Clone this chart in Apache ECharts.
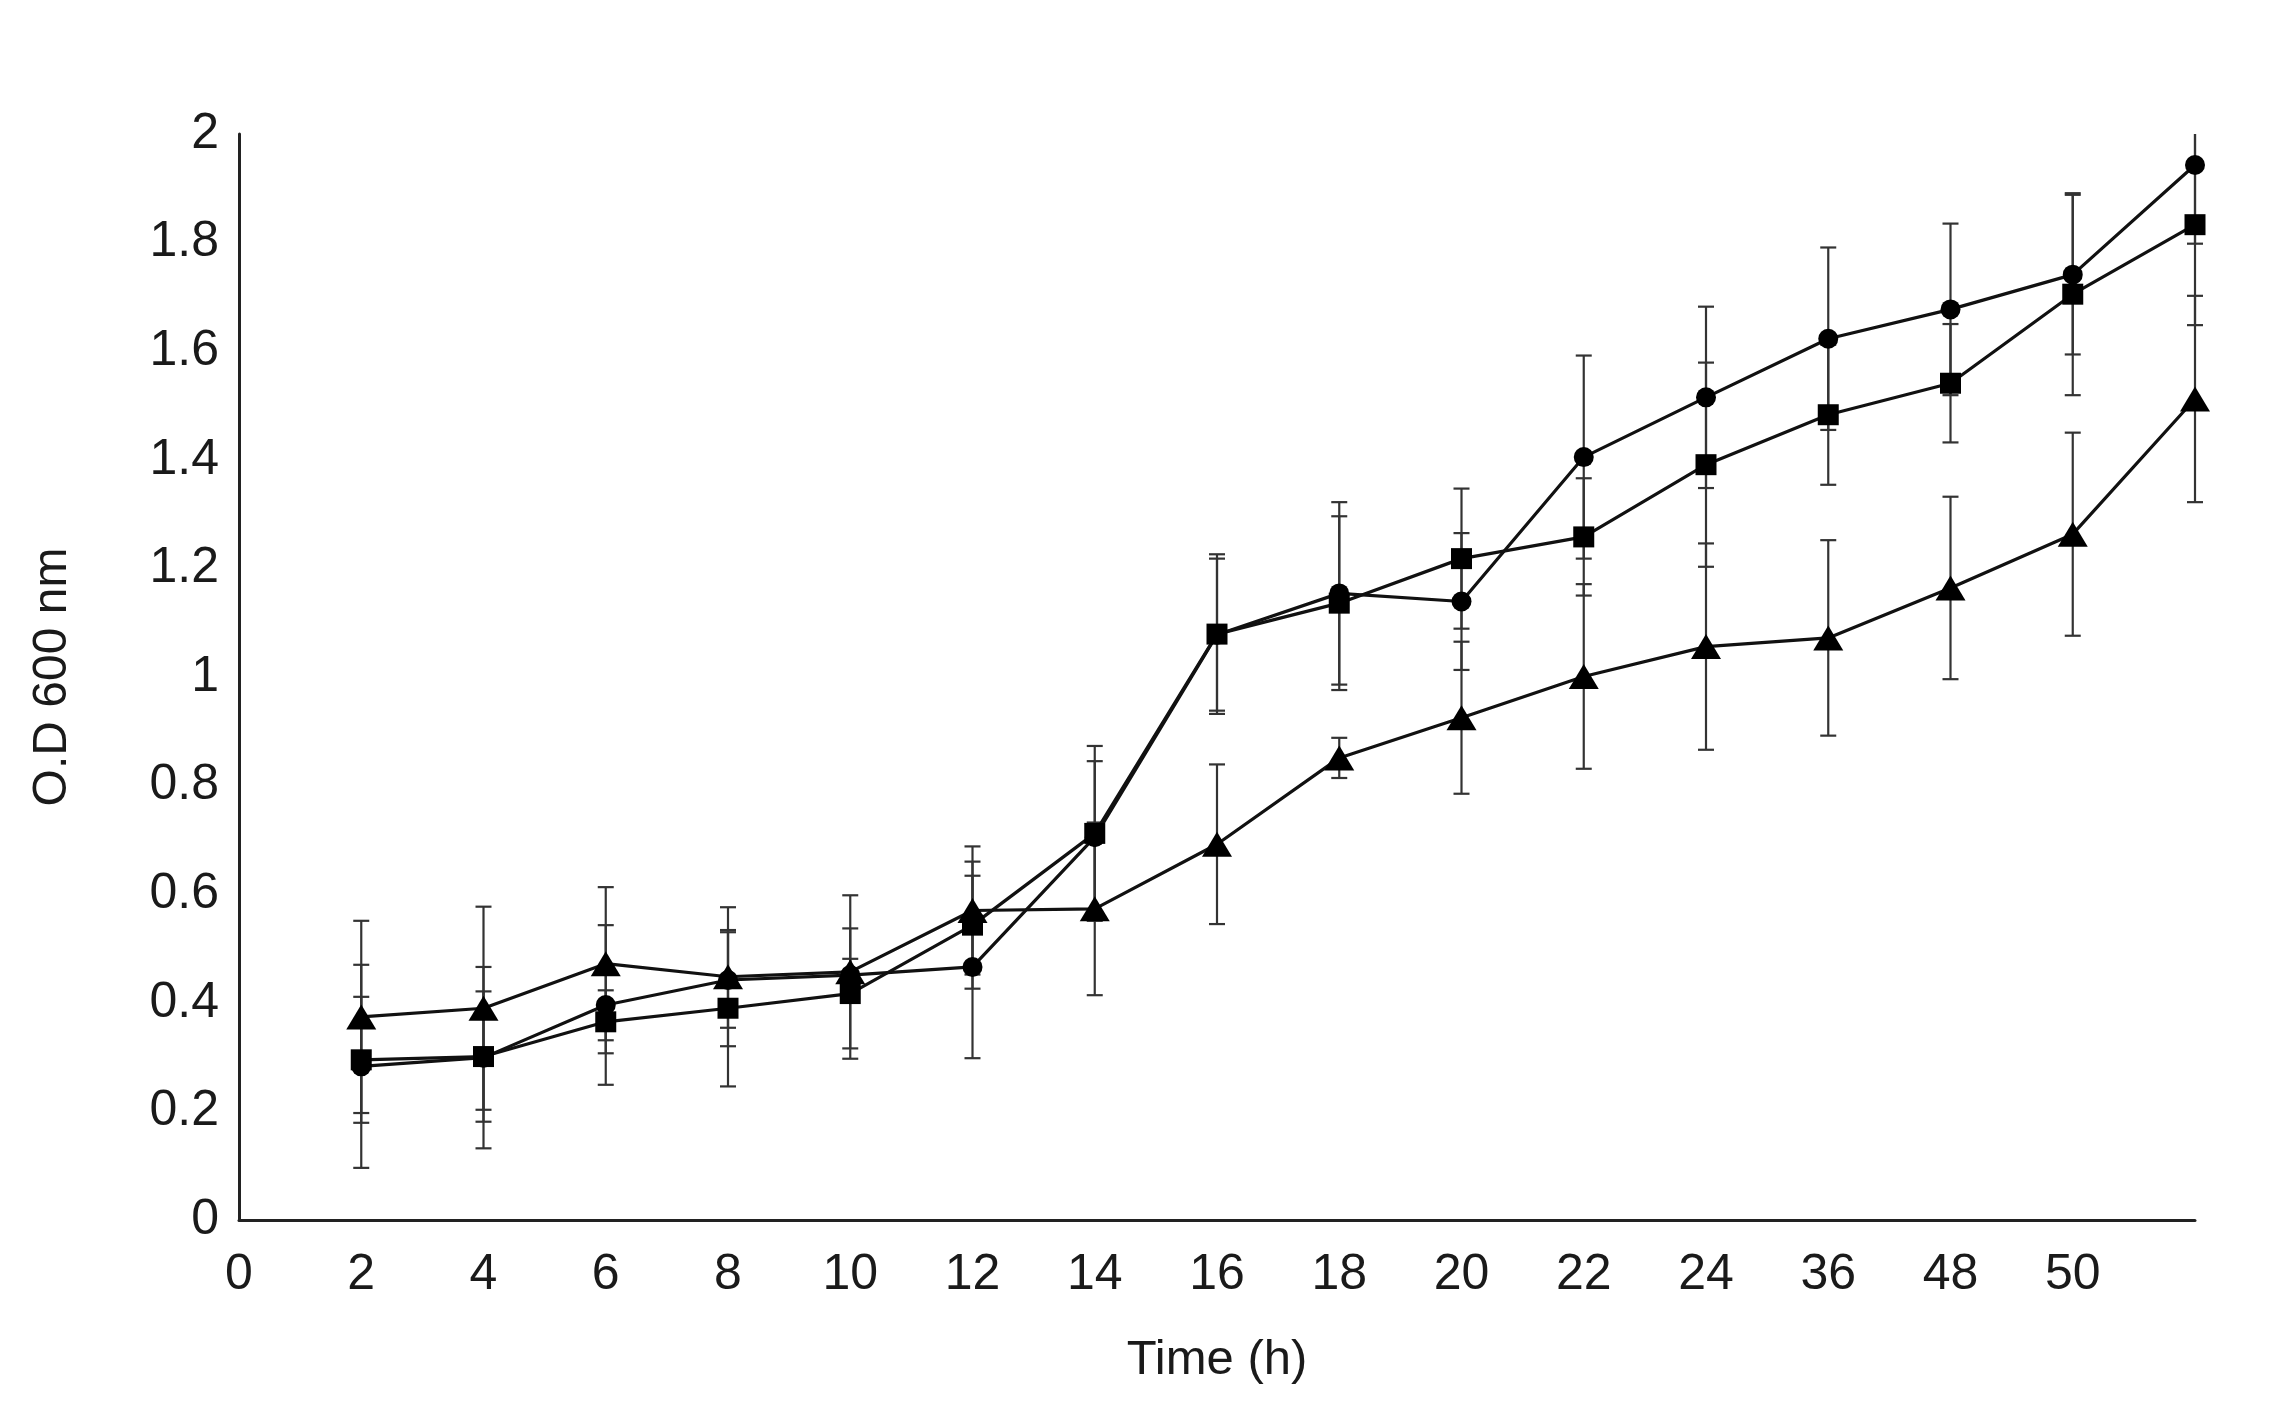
<!DOCTYPE html>
<html>
<head>
<meta charset="utf-8">
<script src="https://cdn.jsdelivr.net/npm/echarts@6/dist/echarts.min.js"></script>
<style>
html,body{margin:0;padding:0;background:#fff;}
#chart{width:2278px;height:1424px;}
</style>
</head>
<body>
<div id="chart"></div>
<script>
// Time categories (last position is unlabeled in the original)
const categories = ['0','2','4','6','8','10','12','14','16','18','20','22','24','36','48','50',''];

// Series means (O.D 600 nm)
const circleValues   = [null, 0.283, 0.299, 0.396, 0.442, 0.451, 0.466, 0.705, 1.078, 1.154, 1.139, 1.405, 1.515, 1.623, 1.677, 1.741, 1.943];
const squareValues   = [null, 0.295, 0.301, 0.365, 0.390, 0.417, 0.543, 0.712, 1.079, 1.136, 1.218, 1.258, 1.391, 1.483, 1.541, 1.705, 1.833];
const triangleValues = [null, 0.374, 0.390, 0.472, 0.448, 0.457, 0.570, 0.573, 0.692, 0.851, 0.925, 1.001, 1.056, 1.072, 1.164, 1.263, 1.512];

// Symmetric error bar half-lengths
const circleErr   = [null, 0.187, 0.167, 0.147, 0.088, 0.030, 0.168, 0.140, 0.140, 0.168, 0.126, 0.187, 0.167, 0.168, 0.158, 0.147, 0.145];
const squareErr   = [null, 0.116, 0.120, 0.058, 0.144, 0.120, 0.117, 0.161, 0.147, 0.160, 0.129, 0.108, 0.188, 0.129, 0.109, 0.186, 0.185];
const triangleErr = [null, 0.177, 0.187, 0.141, 0.128, 0.141, 0.118, 0.159, 0.147, 0.037, 0.140, 0.170, 0.190, 0.180, 0.168, 0.187, 0.190];

// Y axis ticks
const yMin = 0, yMax = 2, yInterval = 0.2;

const FONT = 'Liberation Sans, Arial, Helvetica, sans-serif';
const chart = echarts.init(document.getElementById('chart'));

function errData(vals, errs) {
  const out = [];
  vals.forEach((v, i) => { if (v != null) out.push([i, v, errs[i]]); });
  return out;
}

function renderErr(params, api) {
  const i = api.value(0), v = api.value(1), e = api.value(2);
  let hi = v + e, lo = v - e;
  const hiClip = hi > yMax; if (hiClip) hi = yMax;
  const loClip = lo < yMin; if (loClip) lo = yMin;
  const pHi = api.coord([i, hi]);
  const pLo = api.coord([i, lo]);
  const cw = 8;
  const style = { stroke: '#333', lineWidth: 2.2 };
  const children = [
    { type: 'line', shape: { x1: pHi[0], y1: pHi[1], x2: pLo[0], y2: pLo[1] }, style: style }
  ];
  if (!hiClip) children.push({ type: 'line', shape: { x1: pHi[0]-cw, y1: pHi[1], x2: pHi[0]+cw, y2: pHi[1] }, style: style });
  if (!loClip) children.push({ type: 'line', shape: { x1: pLo[0]-cw, y1: pLo[1], x2: pLo[0]+cw, y2: pLo[1] }, style: style });
  return { type: 'group', children: children };
}

function lineSeries(name, data, symbol, size) {
  return {
    name: name, type: 'line', data: data, symbol: symbol, symbolSize: size,
    showAllSymbol: true, connectNulls: false, z: 5,
    lineStyle: { color: '#111', width: 3.2 },
    itemStyle: { color: '#000', borderWidth: 0 },
    emphasis: { disabled: true }, animation: false
  };
}

function errSeries(name, vals, errs) {
  return {
    name: name + ' err', type: 'custom', renderItem: renderErr,
    data: errData(vals, errs), z: 2, animation: false, silent: true,
    encode: { x: 0, y: 1 }
  };
}

chart.setOption({
  backgroundColor: '#fff',
  animation: false,
  grid: { left: 239, right: 83, top: 134, bottom: 204 },
  xAxis: {
    type: 'category', data: categories, boundaryGap: false,
    name: 'Time (h)', nameLocation: 'middle', nameGap: 116,
    nameTextStyle: { fontFamily: FONT, fontSize: 49, color: '#1a1a1a' },
    axisLine: { lineStyle: { color: '#222', width: 3 } },
    axisTick: { show: false },
    axisLabel: { interval: 0, margin: 30, fontFamily: FONT, fontSize: 50, color: '#1a1a1a' },
    splitLine: { show: false }
  },
  yAxis: {
    type: 'value', min: yMin, max: yMax, interval: yInterval,
    name: 'O.D 600 nm', nameLocation: 'middle', nameGap: 162, nameRotate: 90,
    nameTextStyle: { fontFamily: FONT, fontSize: 48, color: '#1a1a1a' },
    axisLine: { show: true, lineStyle: { color: '#222', width: 3 } },
    axisTick: { show: false },
    axisLabel: { margin: 20, fontFamily: FONT, fontSize: 50, color: '#1a1a1a',
      formatter: v => String(Math.round(v * 10) / 10) },
    splitLine: { show: false }
  },
  series: [
    errSeries('circle', circleValues, circleErr),
    errSeries('square', squareValues, squareErr),
    errSeries('triangle', triangleValues, triangleErr),
    lineSeries('circle', circleValues, 'circle', 20),
    lineSeries('square', squareValues, 'rect', 21),
    lineSeries('triangle', triangleValues, 'triangle', [30, 25])
  ]
});
</script>
</body>
</html>
